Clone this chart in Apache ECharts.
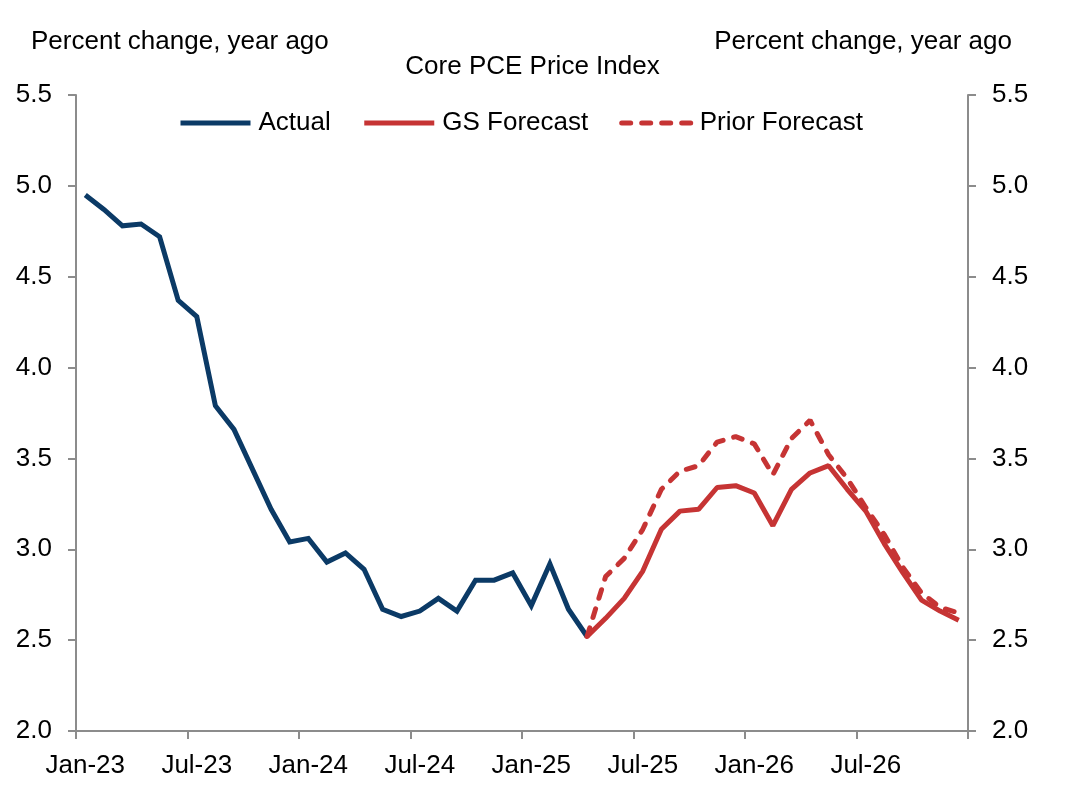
<!DOCTYPE html>
<html>
<head>
<meta charset="utf-8">
<script src="https://cdn.jsdelivr.net/npm/echarts@6/dist/echarts.min.js"></script>
<style>
  html, body { margin: 0; padding: 0; background: #fff; }
  #chart { width: 1065px; height: 801px; }
</style>
</head>
<body>
<div id="chart"></div>
<script>
// Categories: Jan-23 .. Dec-26 (monthly)
var months = ['Jan-23','Feb-23','Mar-23','Apr-23','May-23','Jun-23','Jul-23','Aug-23','Sep-23','Oct-23','Nov-23','Dec-23',
              'Jan-24','Feb-24','Mar-24','Apr-24','May-24','Jun-24','Jul-24','Aug-24','Sep-24','Oct-24','Nov-24','Dec-24',
              'Jan-25','Feb-25','Mar-25','Apr-25','May-25','Jun-25','Jul-25','Aug-25','Sep-25','Oct-25','Nov-25','Dec-25',
              'Jan-26','Feb-26','Mar-26','Apr-26','May-26','Jun-26','Jul-26','Aug-26','Sep-26','Oct-26','Nov-26','Dec-26'];

// Actual: Jan-23 .. Apr-25
var actual = [4.95, 4.87, 4.78, 4.79, 4.72, 4.37, 4.28, 3.79, 3.66, 3.44, 3.22, 3.04,
              3.06, 2.93, 2.98, 2.89, 2.67, 2.63, 2.66, 2.73, 2.66, 2.83, 2.83, 2.87,
              2.69, 2.92, 2.67, 2.52];

// GS Forecast: Apr-25 .. Dec-26
var gsForecast = [2.52, 2.62, 2.73, 2.88, 3.11, 3.21, 3.22, 3.34, 3.35,
                  3.31, 3.13, 3.33, 3.42, 3.46, 3.33, 3.21, 3.03, 2.87, 2.72, 2.66, 2.61];

// Prior Forecast: Apr-25 .. Dec-26
var priorForecast = [2.52, 2.85, 2.95, 3.11, 3.33, 3.43, 3.46, 3.59, 3.62,
                     3.58, 3.41, 3.61, 3.71, 3.52, 3.39, 3.23, 3.08, 2.90, 2.76, 2.68, 2.65];

var forecastStart = 27; // index of Apr-25

function pad(arr, start) {
  var out = [];
  for (var i = 0; i < months.length; i++) {
    var j = i - start;
    out.push(j >= 0 && j < arr.length ? arr[j] : null);
  }
  return out;
}

var FONT = 'Liberation Sans, Arial, sans-serif';
var NAVY = '#0b3a66';
var RED = '#c63434';
var AXIS = '#8c8c8c';

var chart = echarts.init(document.getElementById('chart'), null, { renderer: 'canvas' });

var yAxisCommon = {
  type: 'value', min: 2.0, max: 5.5, interval: 0.5,
  splitLine: { show: false },
  axisLine: { show: true, lineStyle: { color: AXIS, width: 2 } },
  axisTick: { show: true, inside: false, length: 8, lineStyle: { color: AXIS, width: 2 } },
  axisLabel: { color: '#000', fontFamily: FONT, fontSize: 26, margin: 24, formatter: function (v) { return v.toFixed(1); } }
};

chart.setOption({
  animation: false,
  backgroundColor: '#fff',
  title: [
    { text: 'Core PCE Price Index', left: 'center', top: 54, padding: 0,
      textStyle: { fontFamily: FONT, fontSize: 26, fontWeight: 'normal', color: '#000' } },
    { text: 'Percent change, year ago', left: 31, top: 29, padding: 0,
      textStyle: { fontFamily: FONT, fontSize: 26, fontWeight: 'normal', color: '#000' } },
    { text: 'Percent change, year ago', right: 53, top: 29, padding: 0,
      textStyle: { fontFamily: FONT, fontSize: 26, fontWeight: 'normal', color: '#000' } }
  ],
  legend: {
    data: ['Actual', 'GS Forecast', 'Prior Forecast'],
    left: 178, top: 110, padding: 0,
    itemWidth: 70, itemHeight: 14, itemGap: 31,
    itemStyle: { opacity: 0 },
    lineStyle: { width: 5 },
    textStyle: { fontFamily: FONT, fontSize: 26, color: '#000', padding: [0, 0, 0, 3] }
  },
  grid: { left: 76, right: 97, top: 95, bottom: 70, containLabel: false },
  xAxis: {
    type: 'category', data: months, boundaryGap: true,
    axisLine: { show: true, lineStyle: { color: AXIS, width: 2 } },
    axisTick: { show: true, interval: 5, alignWithLabel: false, length: 8, lineStyle: { color: AXIS, width: 2 } },
    axisLabel: { interval: 5, margin: 22, color: '#000', fontFamily: FONT, fontSize: 26 },
    splitLine: { show: false }
  },
  yAxis: [
    Object.assign({ position: 'left' }, yAxisCommon),
    Object.assign({ position: 'right' }, yAxisCommon)
  ],
  series: [
    { name: 'Actual', type: 'line', yAxisIndex: 0, data: actual, symbol: 'none', showSymbol: false,
      connectNulls: false, lineStyle: { color: NAVY, width: 5, join: 'miter' }, itemStyle: { color: NAVY } },
    { name: 'GS Forecast', type: 'line', yAxisIndex: 0, data: pad(gsForecast, forecastStart), symbol: 'none', showSymbol: false,
      lineStyle: { color: RED, width: 5 }, itemStyle: { color: RED } },
    { name: 'Prior Forecast', type: 'line', yAxisIndex: 0, data: pad(priorForecast, forecastStart), symbol: 'none', showSymbol: false,
      lineStyle: { color: RED, width: 5, type: [9, 11], cap: 'round' }, itemStyle: { color: RED } }
  ]
});
</script>
</body>
</html>
